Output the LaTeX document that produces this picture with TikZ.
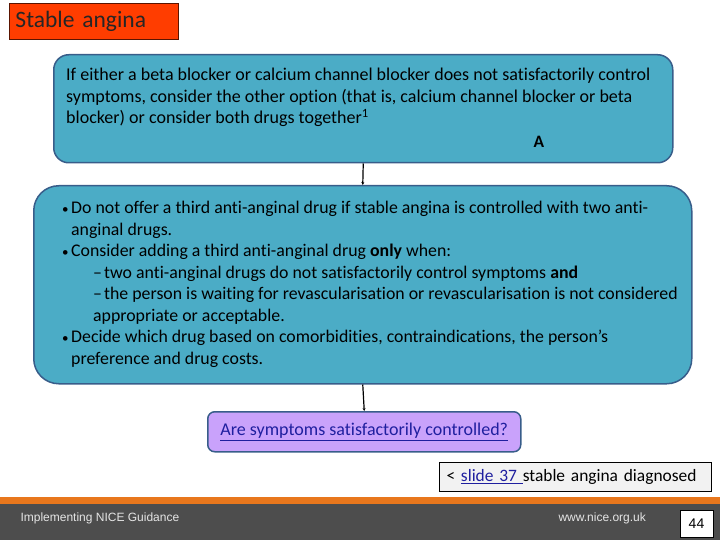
\documentclass[tikz,border=0pt]{standalone}
\usepackage{fontspec}
\setmainfont{Carlito}[Ligatures=NoCommon]
\newfontfamily\footerfont{Liberation Sans}
\usetikzlibrary{arrows.meta}
\definecolor{boxfill}{HTML}{4BACC6}
\definecolor{boxline}{HTML}{385D8A}
\definecolor{askfill}{HTML}{C9A2FB}
\definecolor{linkblue}{HTML}{1F1F9F}
\definecolor{titlefill}{HTML}{FF3D00}
\definecolor{titleline}{HTML}{5A1400}
\definecolor{footgrey}{HTML}{4D4D4D}
\definecolor{footorange}{HTML}{E8771D}
\tikzset{
  flowbox/.style={draw=boxline, fill=boxfill, line width=1.5pt, anchor=north west,
    align=left, inner ysep=0pt, font=\fontsize{17.4}{21.5}\selectfont},
  boxtext/.style={anchor=west, align=left, inner sep=0pt, font=\fontsize{17.8}{21.5}\selectfont},
  conn/.style={line width=1.2pt, -{Stealth[length=3pt,width=3pt]}},
}
\newcommand{\hang}[1]{\makebox[#1][l]{}}
\newcommand{\dotitem}{\makebox[9pt][l]{\fontsize{13}{13}\selectfont\raisebox{0.8pt}{\textbullet}}}
\begin{document}
\begin{tikzpicture}[x=1pt,y=-1pt]
\useasboundingbox (0,0) rectangle (720,540);
%\draw[step=20,gray,very thin] (0,0) grid (720,540); %background grid
\node[draw=titleline, fill=titlefill, line width=1pt, anchor=north west, minimum height=36pt,
  text width=157pt, inner xsep=6pt, align=left, font=\fontsize{23.5}{26}\selectfont,
  text=black!85] (title) at (9,3) {Stable angina};

\node[flowbox, rounded corners=15pt, minimum width=619pt, minimum height=108pt] (advice) at (53,54) {};
\node[boxtext, font=\fontsize{18}{21.5}\selectfont] (advicetext) at (66,97.5) {If either a beta blocker or calcium channel blocker does not satisfactorily control\\
  symptoms, consider the other option (that is, calcium channel blocker or beta\\
  blocker) or consider both drugs together\textsuperscript{1}};
\node[boxtext, font=\fontsize{17.4}{21.5}\selectfont\bfseries, anchor=center] (grade) at (539,142) {A};

\node[flowbox, rounded corners=25pt, minimum width=658pt, minimum height=198pt] (options) at (33,185) {};
\node[boxtext] (optionstext) at (62,284.5) {\dotitem Do not offer a third anti-anginal drug if stable angina is controlled with two anti-\\
  \hang{9pt}anginal drugs.\\
  \dotitem Consider adding a third anti-anginal drug \textbf{only} when:\\
  \hang{31pt}\makebox[11pt][l]{--}two anti-anginal drugs do not satisfactorily control symptoms \textbf{and}\\
  \hang{31pt}\makebox[11pt][l]{--}the person is waiting for revascularisation or revascularisation is not considered\\
  \hang{31pt}appropriate or acceptable.\\
  \dotitem Decide which drug based on comorbidities, contraindications, the person's\\
  \hang{9pt}preference and drug costs.};

\node[flowbox, fill=askfill, rounded corners=7pt, minimum width=313pt, minimum height=40pt,
  align=center, text=linkblue, font=\fontsize{18}{21.5}\selectfont] (ask) at (207,411)
  {\underline{Are symptoms satisfactorily controlled?}};

\node[draw=black, fill=black!5, line width=1pt, anchor=north west, minimum height=29pt,
  text width=258pt, inner xsep=7pt, inner ysep=0pt, align=left,
  font=\fontsize{17.4}{19}\selectfont] (back) at (439,462)
  {<~\textcolor{linkblue}{\underline{slide 37\ }}stable angina diagnosed};

\draw[conn] (advice.south) -- (options.north);
\draw[conn] (options.south) -- (ask.north);

% footer
\fill[footorange] (0,497) rectangle (720,505);
\fill[footgrey] (0,504) rectangle (720,540);
\node[anchor=west, text=white!90!black, font=\footerfont\fontsize{12}{14}\selectfont] (guidance) at (17,518) {Implementing NICE Guidance};
\node[anchor=west, text=white!90!black, font=\footerfont\fontsize{12}{14}\selectfont] (website) at (555,518) {www.nice.org.uk};
\node[draw=black, fill=white, line width=1pt, minimum width=33pt, minimum height=27pt, inner sep=0pt,
  font=\footerfont\fontsize{14}{16}\selectfont] (page) at (696.5,523.5) {44};
\end{tikzpicture}
\end{document}
